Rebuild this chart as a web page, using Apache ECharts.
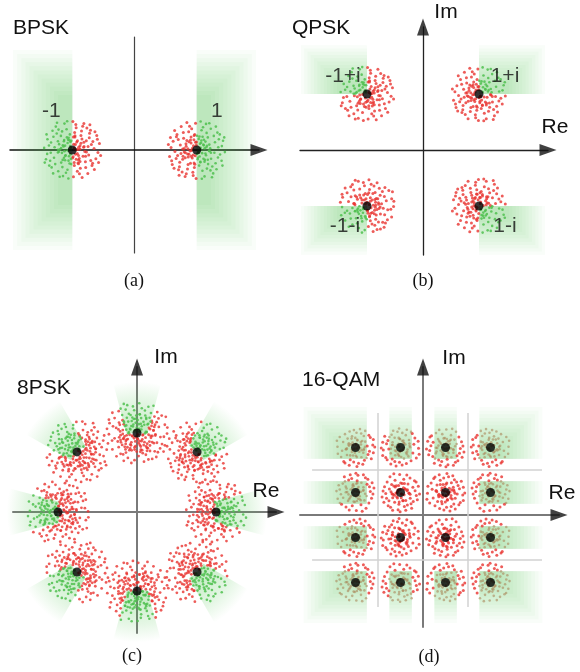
<!DOCTYPE html>
<html>
<head>
<meta charset="utf-8">
<script src="https://cdn.jsdelivr.net/npm/echarts@6/dist/echarts.min.js"></script>
<style>
  html, body { margin: 0; padding: 0; background: #fff; }
  #chart { width: 580px; height: 672px; }
</style>
</head>
<body>
<div id="chart"></div>
<script>
// ---------- constellations ----------
const bpskPoints = [[-1, 0], [1, 0]];
const bpskNames = ['-1', '1'];
const qpskPoints = [[-1, 1], [1, 1], [-1, -1], [1, -1]];
const qpskNames = ['-1+i', '1+i', '-1-i', '1-i'];
const psk8Points = [[1, 0], [0.76, 0.76], [0, 1], [-0.76, 0.76], [-1, 0], [-0.76, -0.76], [0, -1], [0.76, -0.76]];
const qam16Levels = [-3, -1, 1, 3];
const qam16Boundaries = [-2, 2];

// hand-recorded noise offsets (unit radius) shared by every received-sample cloud
const noise = [
  [0.12, 0.85], [-0.34, 0.62], [0.57, 0.41], [-0.78, 0.15], [0.21, -0.33], [-0.05, 0.08], [0.66, -0.52], [-0.47, -0.71], [0.38, 0.09], [-0.22, -0.18],
  [0.91, 0.22], [-0.63, 0.44], [0.04, -0.89], [0.49, 0.73], [-0.88, -0.31], [0.27, -0.61], [-0.12, 0.41], [0.73, 0.05], [-0.41, 0.02], [0.15, 0.27],
  [-0.69, -0.58], [0.55, -0.17], [-0.26, 0.88], [0.82, 0.48], [-0.09, -0.45], [0.33, -0.92], [-0.55, 0.78], [0.08, 0.58], [-0.83, 0.36], [0.61, 0.66],
  [-0.31, -0.87], [0.44, -0.39], [-0.72, -0.09], [0.18, 0.02], [-0.16, -0.66], [0.79, -0.29], [-0.48, 0.29], [0.02, 0.95], [0.69, 0.28], [-0.94, 0.07],
  [0.29, 0.48], [-0.37, -0.42], [0.52, -0.78], [-0.61, -0.26], [0.11, -0.14], [-0.19, 0.69], [0.86, -0.08], [-0.52, 0.55], [0.39, 0.88], [-0.77, -0.52],
  [0.24, -0.79], [-0.03, 0.31], [0.64, 0.18], [-0.45, -0.06], [0.07, -0.52], [-0.29, 0.12], [0.47, 0.31], [-0.66, 0.64], [0.95, -0.18], [-0.13, -0.95],
  [0.36, -0.21], [-0.84, -0.13], [0.58, 0.56], [-0.24, -0.34], [0.13, 0.74], [-0.57, -0.47], [0.74, -0.65], [-0.38, 0.47], [0.01, -0.27], [0.26, 0.14],
  [-0.71, 0.25], [0.45, -0.58], [-0.08, 0.52], [0.84, 0.36], [-0.42, -0.89], [0.19, -0.43], [-0.59, 0.09], [0.62, -0.35], [-0.17, 0.96], [0.31, 0.63],
  [-0.92, -0.42], [0.53, 0.12], [-0.33, -0.57], [0.09, 0.43], [-0.64, -0.78], [0.76, 0.61], [-0.27, 0.33], [0.42, -0.05], [-0.51, 0.91], [0.17, -0.71],
  [-0.86, 0.52], [0.68, -0.44], [-0.11, -0.21], [0.35, 0.79], [-0.74, -0.36], [0.59, 0.84], [-0.21, -0.76], [0.88, -0.42], [-0.46, 0.68], [0.05, 0.19]
];

// ---------- layout & style ----------
const FONT = '"Liberation Sans", Arial, sans-serif';
const SERIF = '"Liberation Serif", "Times New Roman", serif';
const RED = '#e8332f';
const GREEN_DOT = '#4fbf4f';
const QAM_IN_DOT = 'rgba(170,135,90,0.6)';

const panels = [
  { grid: { left: 10, top: 37, width: 249, height: 216 }, x: [-2, 2], y: [-1.648, 1.808],
    colors: ['#111', '#444'], widths: [1.5, 1.2], arrows: [true, false] },
  { grid: { left: 300, top: 27, width: 248, height: 228 }, x: [-2.196, 2.232], y: [-1.875, 2.196],
    colors: ['#222', '#222'], widths: [1.3, 1.3], arrows: [true, true] },
  { grid: { left: 13, top: 367, width: 263, height: 266 }, x: [-1.570, 1.759], y: [-1.532, 1.835],
    colors: ['#7a7a7a', '#7a7a7a'], widths: [2, 2], arrows: [true, true] },
  { grid: { left: 300, top: 367, width: 259, height: 260 }, x: [-5.467, 6.044], y: [-4.978, 6.578],
    colors: ['#7a7a7a', '#7a7a7a'], widths: [2, 2], arrows: [true, true] }
];

// orientations so neighbouring clouds are not identical copies
const orient = [[1,0,0,1],[-1,0,0,1],[1,0,0,-1],[-1,0,0,-1],[0,1,1,0],[0,-1,1,0],[0,1,-1,0],[0,-1,-1,0]];

// passes: [count, radius factor] — an outer spread plus a denser core
function cloud(p, k, scale, passes) {
  const out = [];
  passes.forEach((ps, pass) => {
    const m = orient[(k * 3 + pass * 5) % 8];
    const s = scale * ps[1];
    const start = pass * 37;
    for (let j = 0; j < ps[0]; j++) {
      const n = noise[(start + j) % noise.length];
      out.push([p[0] + s * (m[0] * n[0] + m[1] * n[1]), p[1] + s * (m[2] * n[0] + m[3] * n[1])]);
    }
  });
  return out;
}

// ---------- decision regions ----------
const BPSK_OUT_X = 1.95, BPSK_OUT_Y = 1.6;
const QPSK_OUT_X = 2.18, QPSK_OUT_Y = 1.87;
const QAM_OUT_X = 5.3, QAM_OUT_Y = 4.8;
const WEDGE_APEX = 0.5, WEDGE_OUTER = 1.15, WEDGE_HALF = 15 * Math.PI / 180;

// rect = [x0, y0, x1, y1, fadeLeft, fadeRight, fadeTop, fadeBottom]
const bpskRegions = bpskPoints.map(p => {
  const s = Math.sign(p[0]);
  return s < 0 ? [-BPSK_OUT_X, -BPSK_OUT_Y, p[0], BPSK_OUT_Y, 1, 0, 1, 1]
               : [p[0], -BPSK_OUT_Y, BPSK_OUT_X, BPSK_OUT_Y, 0, 1, 1, 1];
});
const qpskRegions = qpskPoints.map(p => {
  const sx = Math.sign(p[0]), sy = Math.sign(p[1]);
  const x0 = sx < 0 ? -QPSK_OUT_X : p[0], x1 = sx < 0 ? p[0] : QPSK_OUT_X;
  const y0 = sy < 0 ? -QPSK_OUT_Y : p[1], y1 = sy < 0 ? p[1] : QPSK_OUT_Y;
  return [x0, y0, x1, y1, sx < 0 ? 1 : 0, sx > 0 ? 1 : 0, sy > 0 ? 1 : 0, sy < 0 ? 1 : 0];
});
const qamPoints = [];
qam16Levels.forEach(y => qam16Levels.forEach(x => qamPoints.push([x, y])));
function qamRange(v, out) {
  const s = Math.sign(v);
  if (Math.abs(v) === 3) {
    return s < 0 ? [-out, v + 0.5, 1, 0] : [v - 0.5, out, 0, 1];
  }
  return [v - 0.5, v + 0.5, 0, 0];
}
const qamRegions = qamPoints.filter(p => Math.abs(p[0]) === 3 || Math.abs(p[1]) === 3).map(p => {
  const rx = qamRange(p[0], QAM_OUT_X), ry = qamRange(p[1], QAM_OUT_Y);
  return [rx[0], ry[0], rx[1], ry[1], rx[2], rx[3], ry[3], ry[2]];
});

const inside = {
  bpsk: (p, s) => (s[0] - p[0]) * Math.sign(p[0]) > 0,
  qpsk: (p, s) => (s[0] - p[0]) * Math.sign(p[0]) > 0 && (s[1] - p[1]) * Math.sign(p[1]) > 0,
  psk8: (p, s) => {
    const l = Math.hypot(p[0], p[1]), ux = p[0] / l, uy = p[1] / l;
    const dx = s[0] - (p[0] - WEDGE_APEX * ux), dy = s[1] - (p[1] - WEDGE_APEX * uy);
    const d = Math.hypot(dx, dy);
    return d > WEDGE_APEX && (dx * ux + dy * uy) / d > Math.cos(WEDGE_HALF);
  },
  qam: (p, s) => {
    if (Math.abs(p[0]) !== 3 && Math.abs(p[1]) !== 3) return false;
    const ok = (v, c) => Math.abs(v) === 3 ? c * Math.sign(v) > Math.abs(v) - 0.5 : Math.abs(c - v) < 0.5;
    return ok(p[0], s[0]) && ok(p[1], s[1]);
  }
};

function split(points, rule, scale, passes) {
  const red = [], green = [];
  points.forEach((p, k) => {
    cloud(p, k, scale, passes).forEach(s => (rule(p, s) ? green : red).push(s));
  });
  return { red, green };
}
const samples = [
  split(bpskPoints, inside.bpsk, 0.48, [[100, 1], [45, 0.5]]),
  split(qpskPoints, inside.qpsk, 0.5, [[90, 1], [40, 0.5]]),
  split(psk8Points, inside.psk8, 0.4, [[100, 1], [90, 0.62]]),
  split(qamPoints, inside.qam, 0.9, [[50, 1], [25, 0.5]])
];

// ---------- renderers ----------
function regionRenderer(fadePx, layers, alpha) {
  return function (params, api) {
    const tl = api.coord([api.value(0), api.value(3)]);
    const br = api.coord([api.value(2), api.value(1)]);
    const fl = api.value(4), fr = api.value(5), ft = api.value(6), fb = api.value(7);
    const children = [];
    for (let i = 0; i < layers; i++) {
      const t = fadePx * i / (layers - 1);
      const x0 = tl[0] + fl * t, x1 = br[0] - fr * t, y0 = tl[1] + ft * t, y1 = br[1] - fb * t;
      if (x1 <= x0 || y1 <= y0) continue;
      children.push({ type: 'rect', silent: true,
        shape: { x: x0, y: y0, width: x1 - x0, height: y1 - y0 },
        style: { fill: 'rgba(70,195,70,' + alpha + ')' } });
    }
    return { type: 'group', children };
  };
}

function wedgeRenderer(params, api) {
  const px = api.value(0), py = api.value(1);
  const l = Math.hypot(px, py), ux = px / l, uy = py / l;
  const apex = api.coord([px - WEDGE_APEX * ux, py - WEDGE_APEX * uy]);
  const unit = api.size([1, 0])[0];
  const r0 = WEDGE_APEX * unit, r = WEDGE_OUTER * unit;
  const th = Math.atan2(uy, ux);
  return {
    type: 'sector', silent: true,
    shape: { cx: apex[0], cy: apex[1], r0: r0, r: r, startAngle: -th - WEDGE_HALF, endAngle: -th + WEDGE_HALF, clockwise: true },
    style: { fill: { type: 'radial', x: apex[0], y: apex[1], r: r, global: true,
      colorStops: [
        { offset: 0, color: 'rgba(70,195,70,0.40)' },
        { offset: r0 / r, color: 'rgba(70,195,70,0.34)' },
        { offset: 0.8, color: 'rgba(70,195,70,0.14)' },
        { offset: 1, color: 'rgba(70,195,70,0)' }] } }
  };
}

function lineRenderer(params, api) {
  const a = api.coord([api.value(0), api.value(1)]);
  const b = api.coord([api.value(2), api.value(3)]);
  return { type: 'line', silent: true, shape: { x1: a[0], y1: a[1], x2: b[0], y2: b[1] },
    style: { stroke: '#d2d2d2', lineWidth: 1.5 } };
}

// ---------- option ----------
const grid = [], xAxis = [], yAxis = [], series = [];
panels.forEach((pn, i) => {
  grid.push(Object.assign({ containLabel: false }, pn.grid));
  const ax = (range, c, w) => ({
    gridIndex: i, type: 'value', min: range[0], max: range[1],
    axisLine: { show: true, onZero: true, lineStyle: { color: c, width: w } },
    axisTick: { show: false }, axisLabel: { show: false }, splitLine: { show: false }
  });
  xAxis.push(ax(pn.x, pn.colors[0], pn.widths[0]));
  yAxis.push(ax(pn.y, pn.colors[1], pn.widths[1]));
});

const regionSets = [
  { data: bpskRegions, fade: 45 },
  { data: qpskRegions, fade: 36 },
  null,
  { data: qamRegions, fade: 40 }
];
regionSets.forEach((rs, i) => {
  if (!rs) return;
  series.push({ type: 'custom', xAxisIndex: i, yAxisIndex: i, z: 1, silent: true,
    renderItem: regionRenderer(rs.fade, 12, 0.03), data: rs.data });
});
series.push({ type: 'custom', xAxisIndex: 2, yAxisIndex: 2, z: 1, silent: true,
  renderItem: wedgeRenderer, data: psk8Points });

// 16-QAM decision boundaries
const qamLines = [];
qam16Boundaries.forEach(b => {
  qamLines.push([b, -4.09, b, 4.53]);
  qamLines.push([-4.93, b, 5.29, b]);
});
series.push({ type: 'custom', xAxisIndex: 3, yAxisIndex: 3, z: 1.5, silent: true,
  renderItem: lineRenderer, data: qamLines });

// received samples
samples.forEach((sm, i) => {
  series.push({ type: 'scatter', xAxisIndex: i, yAxisIndex: i, z: 3, silent: true, clip: false,
    symbol: 'circle', symbolSize: i === 2 ? 2.8 : 3, itemStyle: { color: RED }, data: sm.red });
  series.push({ type: 'scatter', xAxisIndex: i, yAxisIndex: i, z: 3, silent: true, clip: false,
    symbol: 'circle', symbolSize: 2.6,
    itemStyle: { color: i === 3 ? QAM_IN_DOT : GREEN_DOT, opacity: i === 3 ? 1 : 0.85 }, data: sm.green });
});

// constellation points with their symbol labels
const labelStyle = { show: true, position: 'inside', formatter: '{b}', color: '#111', fontSize: 21, fontFamily: FONT };
const bpskLabelOffsets = [[-21, -39], [20, -39]];
const qpskLabelOffsets = [[-24, -18], [26, -18], [-22, 20], [26, 20]];
const pointSets = [
  bpskPoints.map((p, k) => ({ value: p, name: bpskNames[k], label: Object.assign({}, labelStyle, { offset: bpskLabelOffsets[k] }) })),
  qpskPoints.map((p, k) => ({ value: p, name: qpskNames[k], label: Object.assign({}, labelStyle, { offset: qpskLabelOffsets[k] }) })),
  psk8Points,
  qamPoints
];
pointSets.forEach((d, i) => {
  series.push({ type: 'scatter', xAxisIndex: i, yAxisIndex: i, z: 5, silent: true, clip: false,
    symbol: 'circle', symbolSize: 9, itemStyle: { color: '#000' }, data: d });
});

// axis arrowheads at the axis ends
panels.forEach((pn, i) => {
  const d = [];
  if (pn.arrows[0]) d.push({ value: [pn.x[1], 0], symbolRotate: -90 });
  if (pn.arrows[1]) d.push({ value: [0, pn.y[1]], symbolRotate: 0 });
  series.push({ type: 'scatter', xAxisIndex: i, yAxisIndex: i, z: 6, silent: true, clip: false,
    symbol: 'triangle', symbolSize: [12, 17], itemStyle: { color: '#111' }, data: d });
});

const txt = (text, x, y, size, align, family) => ({
  type: 'text', x: x, y: y, silent: true, z: 10,
  style: { text: text, fill: '#111', font: size + 'px ' + (family || FONT), align: align || 'center', verticalAlign: 'middle' }
});

const option = {
  backgroundColor: '#fff',
  animation: false,
  grid, xAxis, yAxis, series,
  graphic: [
    txt('BPSK', 13, 28, 21, 'left'),
    txt('QPSK', 292, 28, 21, 'left'),
    txt('8PSK', 17, 388, 21, 'left'),
    txt('16-QAM', 302, 380, 21, 'left'),
    txt('Im', 446, 12, 21),
    txt('Re', 555, 127, 21),
    txt('Im', 166, 357, 21),
    txt('Re', 266, 491, 21),
    txt('Im', 454, 358, 21),
    txt('Re', 562, 493, 21),
    txt('(a)', 134, 281, 18, 'center', SERIF),
    txt('(b)', 423, 281, 18, 'center', SERIF),
    txt('(c)', 132, 656, 18, 'center', SERIF),
    txt('(d)', 429, 657, 18, 'center', SERIF)
  ]
};

const chart = echarts.init(document.getElementById('chart'), null, { renderer: 'canvas' });
chart.setOption(option);
</script>
</body>
</html>
